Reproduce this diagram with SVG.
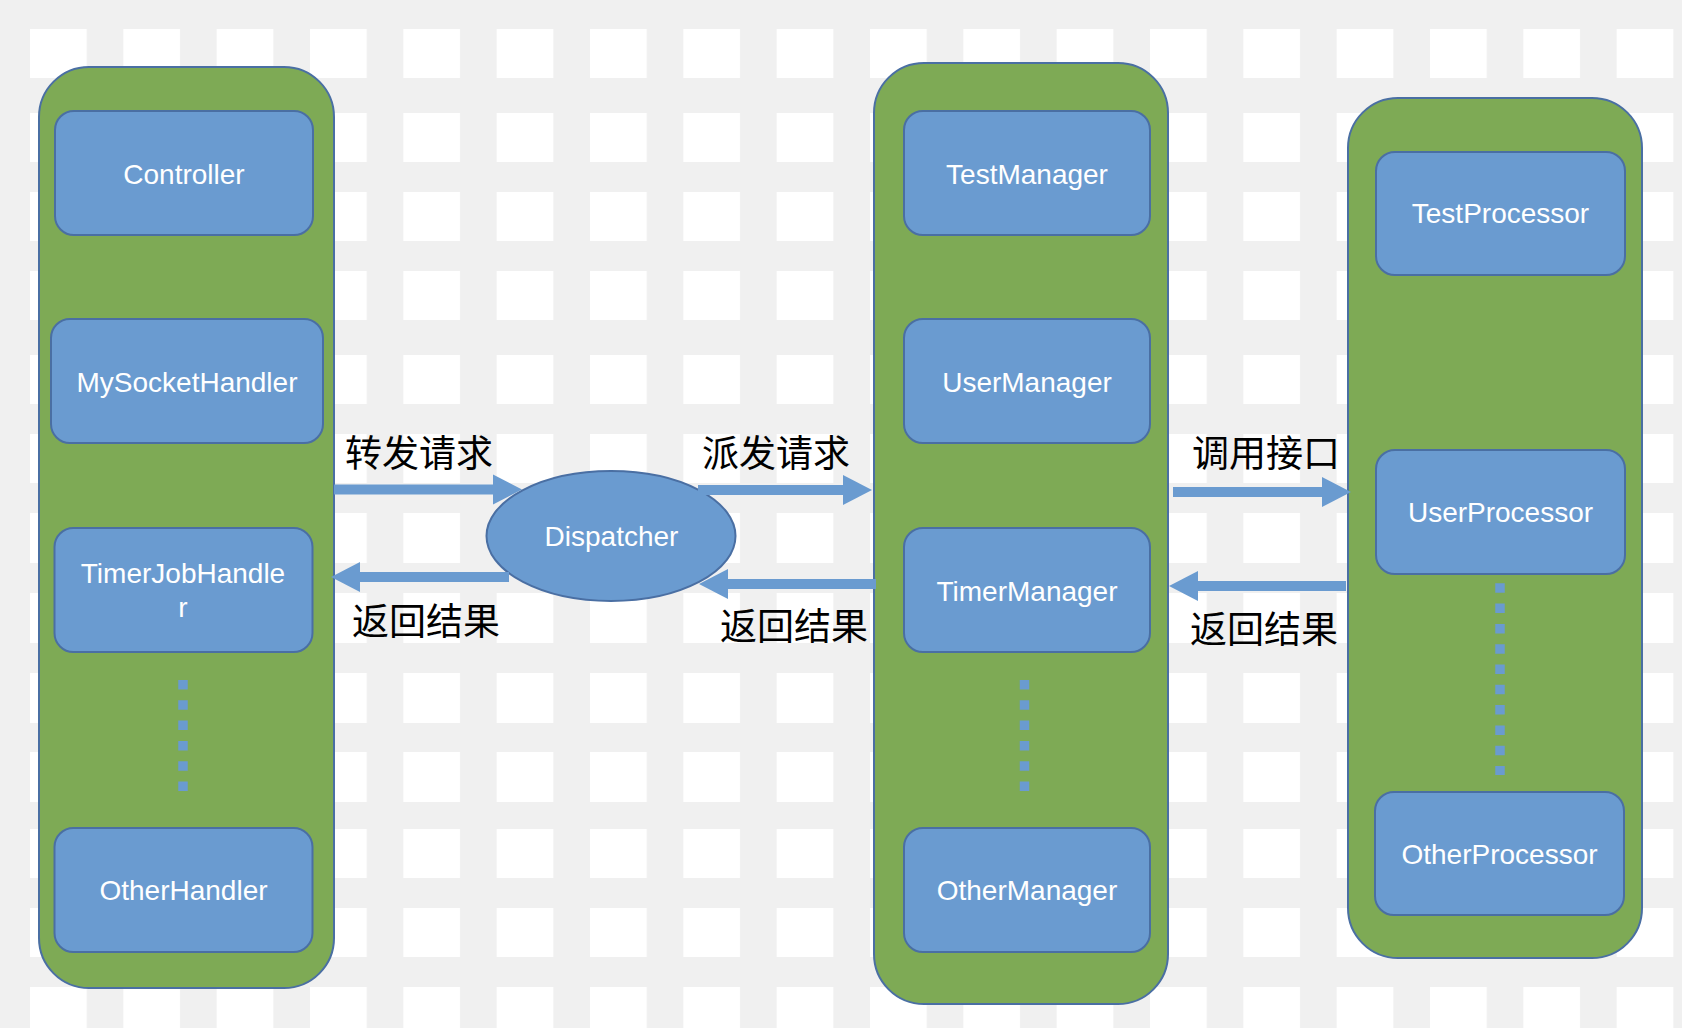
<svg xmlns="http://www.w3.org/2000/svg" width="1682" height="1028" viewBox="0 0 1682 1028">
<style>
.bgrow{fill:url(#cols)}
.group{fill:#7eaa55;stroke:#4a6fa3;stroke-width:2}
.box{fill:#6a9bd0;stroke:#4a6fa3;stroke-width:2}
.lbl{font-family:"Liberation Sans",Arial,sans-serif;font-size:28px;fill:#ffffff;text-anchor:middle}
.cjk{font-family:"Noto Sans CJK SC","Noto Sans",sans-serif;font-size:37px;font-weight:400;fill:#000000}
.dots{stroke:#6a9bd0;stroke-width:9.5;stroke-dasharray:9.5 10.8;fill:none}
.arrow{stroke:#6a9bd0;stroke-width:10;fill:none;marker-end:url(#head)}
</style>
<defs>
<pattern id="cols" patternUnits="userSpaceOnUse" x="30" y="0" width="93.333" height="1028">
<rect x="0" y="0" width="56.7" height="1028" fill="#ffffff"/>
</pattern>
<marker id="head" markerUnits="userSpaceOnUse" markerWidth="30" markerHeight="30" viewBox="0 0 30 30" refX="1" refY="15" orient="auto" overflow="visible">
<path d="M0,0 L29,15 L0,30 z" fill="#6a9bd0"/>
</marker>
</defs>
<g id="background">
<rect x="0" y="0" width="1682" height="1028" fill="#f0f0f0"/>
<rect class="bgrow" x="0" y="29" width="1682" height="49"/>
<rect class="bgrow" x="0" y="113" width="1682" height="49"/>
<rect class="bgrow" x="0" y="192" width="1682" height="49"/>
<rect class="bgrow" x="0" y="271" width="1682" height="49"/>
<rect class="bgrow" x="0" y="355" width="1682" height="49"/>
<rect class="bgrow" x="0" y="434" width="1682" height="49"/>
<rect class="bgrow" x="0" y="513" width="1682" height="50"/>
<rect class="bgrow" x="0" y="593" width="1682" height="50"/>
<rect class="bgrow" x="0" y="673" width="1682" height="50"/>
<rect class="bgrow" x="0" y="752" width="1682" height="50"/>
<rect class="bgrow" x="0" y="829" width="1682" height="49"/>
<rect class="bgrow" x="0" y="908" width="1682" height="49"/>
<rect class="bgrow" x="0" y="987" width="1682" height="49"/>
</g>
<g id="handlers">
<rect class="group" x="39" y="67" width="295" height="921" rx="50" ry="50"/>
<g id="controller"><rect class="box" x="55" y="111" width="258" height="124" rx="19"/><text class="lbl" x="184" y="184">Controller</text></g>
<g id="mysockethandler"><rect class="box" x="51" y="319" width="272" height="124" rx="19"/><text class="lbl" x="187" y="392">MySocketHandler</text></g>
<g id="timerjobhandler"><rect class="box" x="54.5" y="528" width="258" height="124" rx="19"/><text class="lbl" x="183" y="583">TimerJobHandle</text><text class="lbl" x="183" y="617">r</text></g>
<line class="dots" x1="183" y1="680" x2="183" y2="791.5"/>
<g id="otherhandler"><rect class="box" x="54.5" y="828" width="258" height="124" rx="19"/><text class="lbl" x="183.5" y="900">OtherHandler</text></g>
</g>
<g id="dispatcher">
<ellipse cx="611" cy="536" rx="124.5" ry="65" fill="#6a9bd0" stroke="#4a6fa3" stroke-width="2"/>
<text class="lbl" x="611.5" y="546">Dispatcher</text>
</g>
<g id="managers">
<rect class="group" x="874" y="63" width="294" height="941" rx="50" ry="50"/>
<g id="testmanager"><rect class="box" x="904" y="111" width="246" height="124" rx="19"/><text class="lbl" x="1027" y="184">TestManager</text></g>
<g id="usermanager"><rect class="box" x="904" y="319" width="246" height="124" rx="19"/><text class="lbl" x="1027" y="392">UserManager</text></g>
<g id="timermanager"><rect class="box" x="904" y="528" width="246" height="124" rx="19"/><text class="lbl" x="1027" y="601">TimerManager</text></g>
<line class="dots" x1="1024.5" y1="680" x2="1024.5" y2="791.5"/>
<g id="othermanager"><rect class="box" x="904" y="828" width="246" height="124" rx="19"/><text class="lbl" x="1027" y="900">OtherManager</text></g>
</g>
<g id="processors">
<rect class="group" x="1348" y="98" width="294" height="860" rx="50" ry="50"/>
<g id="testprocessor"><rect class="box" x="1376" y="152" width="249" height="123" rx="19"/><text class="lbl" x="1500.5" y="223">TestProcessor</text></g>
<g id="userprocessor"><rect class="box" x="1376" y="450" width="249" height="124" rx="19"/><text class="lbl" x="1500.5" y="522">UserProcessor</text></g>
<line class="dots" x1="1500" y1="583.3" x2="1500" y2="775"/>
<g id="otherprocessor"><rect class="box" x="1375" y="792" width="249" height="123" rx="19"/><text class="lbl" x="1499.5" y="864">OtherProcessor</text></g>
</g>
<g id="connectors">
<line class="arrow" x1="334" y1="489.5" x2="494" y2="489.5"/>
<line class="arrow" x1="698" y1="490" x2="844" y2="490"/>
<line class="arrow" x1="509" y1="577" x2="359" y2="577"/>
<line class="arrow" x1="876" y1="584" x2="727" y2="584"/>
<line class="arrow" x1="1173" y1="492" x2="1323" y2="492"/>
<line class="arrow" x1="1346" y1="586" x2="1197" y2="586"/>
</g>
<g id="labels">
<text class="cjk" x="345" y="467">转发请求</text>
<text class="cjk" x="702" y="467">派发请求</text>
<text class="cjk" x="352" y="635">返回结果</text>
<text class="cjk" x="720" y="640">返回结果</text>
<text class="cjk" x="1192" y="467">调用接口</text>
<text class="cjk" x="1190" y="643">返回结果</text>
</g>
</svg>
